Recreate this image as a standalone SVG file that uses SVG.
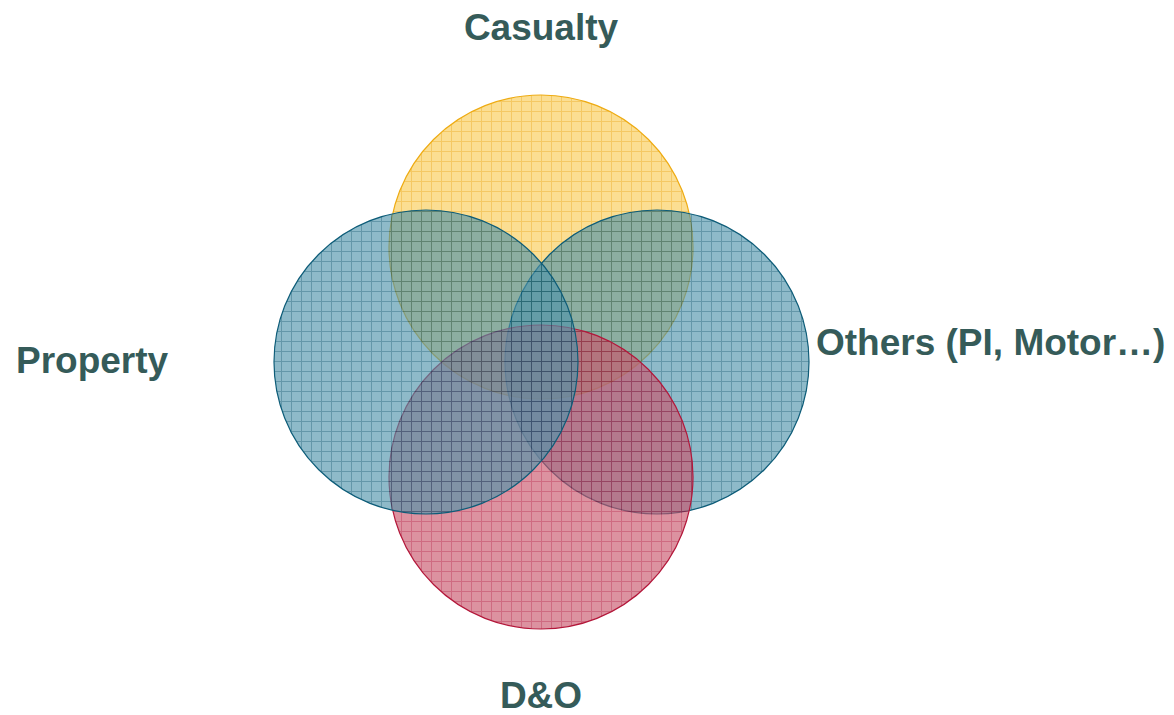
<svg xmlns="http://www.w3.org/2000/svg" width="1174" height="715" viewBox="0 0 1174 715">
<style>
.lbl{font-family:"Liberation Sans",Arial,sans-serif;font-weight:bold;font-size:37px;fill:#355b59}
.c{fill-opacity:0.64;stroke-width:1.2}
</style>
<defs>
<pattern id="py" width="10" height="10" patternUnits="userSpaceOnUse" x="1" y="1">
<rect width="10" height="10" fill="#f8cc55"/>
<path d="M0 0.5H10M0.5 0V10" stroke="#eea90c" stroke-width="1"/>
</pattern>
<pattern id="pb" width="10" height="10" patternUnits="userSpaceOnUse" x="1" y="1">
<rect width="10" height="10" fill="#4e93aa"/>
<path d="M0 0.5H10M0.5 0V10" stroke="#0d5c78" stroke-width="1"/>
</pattern>
<pattern id="pr" width="10" height="10" patternUnits="userSpaceOnUse" x="1" y="1">
<rect width="10" height="10" fill="#c9556b"/>
<path d="M0 0.5H10M0.5 0V10" stroke="#b3173a" stroke-width="1"/>
</pattern>
</defs>
<g id="casualty"><circle class="c" cx="541" cy="247" r="152" fill="url(#py)" stroke="#eeab12"/></g>
<g id="others"><circle class="c" cx="657" cy="362" r="152" fill="url(#pb)" stroke="#0d5c78"/></g>
<g id="dno"><circle class="c" cx="541" cy="477" r="152" fill="url(#pr)" stroke="#b3173a"/></g>
<g id="property"><circle class="c" cx="426" cy="362" r="152" fill="url(#pb)" stroke="#0d5c78"/></g>
<g id="connectors"></g>
<text class="lbl" x="541" y="40" text-anchor="middle">Casualty</text>
<text class="lbl" x="16" y="373">Property</text>
<text class="lbl" x="816" y="355">Others (PI, Motor…)</text>
<text class="lbl" x="541" y="708" text-anchor="middle">D&amp;O</text>
</svg>
